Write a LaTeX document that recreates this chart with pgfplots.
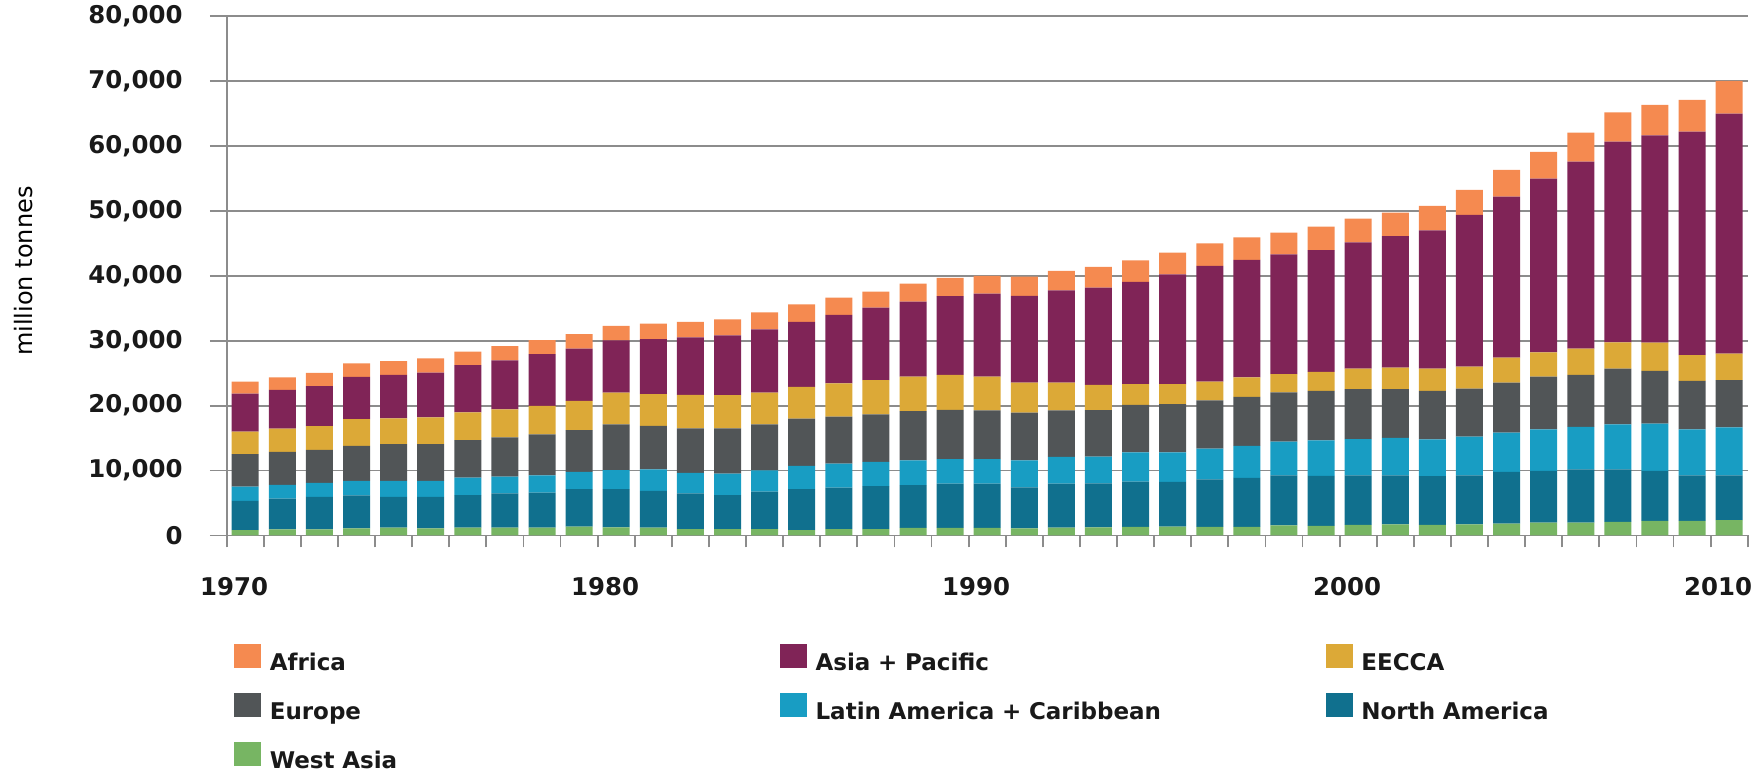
\documentclass[border=0pt]{standalone}
\usepackage{fontspec}
\setmainfont{DejaVu Sans}
\usepackage{pgfplots}
\usepackage{pgfplotstable}
\pgfplotsset{compat=1.18}

\definecolor{cWA}{HTML}{77B563}
\definecolor{cNA}{HTML}{10708E}
\definecolor{cLA}{HTML}{189DC3}
\definecolor{cEU}{HTML}{515557}
\definecolor{cEE}{HTML}{DCA937}
\definecolor{cAP}{HTML}{802457}
\definecolor{cAF}{HTML}{F58A50}
\definecolor{cgrid}{HTML}{8C8C8C}

% million tonnes per region
\pgfplotstableread{
year WA NA LA EU EE AP AF
1970 825 4510 2200 5005 3465 5830 1870
1971 935 4730 2145 5060 3575 5995 1925
1972 935 5005 2145 5115 3630 6160 2035
1973 1100 5060 2255 5390 4125 6490 2090
1974 1210 4730 2475 5665 3960 6710 2090
1975 1100 4840 2475 5665 4125 6875 2200
1976 1210 5005 2695 5775 4290 7260 2090
1977 1210 5280 2585 6050 4290 7535 2200
1978 1210 5390 2640 6325 4400 7975 2145
1979 1375 5775 2640 6435 4510 8030 2255
1980 1265 5885 2915 7040 4895 8030 2255
1981 1210 5665 3300 6710 4895 8470 2365
1982 990 5500 3135 6875 5170 8855 2365
1983 990 5225 3300 6985 5115 9185 2475
1984 990 5775 3245 7095 4895 9735 2640
1985 825 6325 3575 7260 4895 10010 2695
1986 990 6380 3685 7260 5115 10560 2640
1987 990 6600 3740 7315 5280 11165 2475
1988 1155 6600 3795 7590 5335 11550 2750
1989 1155 6820 3795 7590 5390 12100 2805
1990 1155 6820 3795 7480 5225 12760 2750
1991 1100 6325 4125 7370 4620 13365 2970
1992 1210 6765 4125 7150 4290 14190 3025
1993 1265 6765 4125 7150 3905 14960 3190
1994 1320 6985 4510 7315 3190 15730 3300
1995 1375 6875 4565 7425 3080 16885 3355
1996 1320 7315 4730 7425 2915 17820 3465
1997 1320 7535 4950 7535 3025 18095 3465
1998 1540 7700 5225 7590 2805 18425 3355
1999 1485 7700 5445 7645 2915 18755 3630
2000 1650 7590 5610 7700 3135 19470 3630
2001 1705 7535 5775 7535 3300 20240 3630
2002 1650 7480 5665 7480 3410 21285 3795
2003 1705 7535 5995 7370 3410 23375 3850
2004 1815 7975 6050 7700 3850 24805 4125
2005 1980 7975 6380 8140 3740 26730 4125
2006 1980 8195 6545 8030 4015 28820 4455
2007 2090 8085 6930 8580 4070 30910 4510
2008 2255 7700 7260 8140 4345 31900 4730
2009 2255 6985 7095 7480 3960 34430 4895
2010 2365 6875 7425 7260 4070 36960 5060
}\datatable

\begin{document}
\begin{tikzpicture}
\path[use as bounding box] (-113.35pt,-121.75pt) rectangle (764.65pt,267.75pt);
\begin{axis}[
  at={(0pt,0pt)}, anchor=south west,
  scale only axis, width=760.5pt, height=259.75pt,
  ybar stacked, bar width=13.5pt,
  xmin=1969.5, xmax=2010.5, ymin=0, ymax=80000,
  axis lines*=left,
  axis line style={-, draw=cgrid, line width=0.9pt},
  ymajorgrids, major grid style={draw=cgrid, line width=0.9pt},
  ytick={0,10000,...,80000},
  xtick={1969.7,1979.7,1989.7,1999.7,2009.7},
  xticklabels={1970,1980,1990,2000,2010},
  minor xtick={1969.5,1970.5,...,2010.5},
  tick align=outside, major tick length=8.35pt, minor tick length=6pt,
  tick style={draw=cgrid, line width=0.9pt},
  major x tick style={draw=none},
  scaled y ticks=false,
  /pgf/number format/.cd, fixed, 1000 sep={,}, assume math mode=true, /pgfplots/.cd,
  tick label style={font=\bfseries\fontsize{12.2}{14}\selectfont, text=black!90},
  yticklabel style={anchor=east, inner sep=0pt, xshift=-13.5pt},
  xticklabel style={anchor=base, inner sep=0pt, yshift=-21.75pt},
  ylabel={million tonnes},
  ylabel style={at={(axis description cs:-0.1333,0.509)}, anchor=center, font=\fontsize{12}{14}\selectfont},
  legend columns=3,
  legend cell align=left,
  legend style={
    at={(0,0)}, anchor=north west, xshift=3.65pt, yshift=-54.25pt,
    draw=none, fill=none, inner sep=0pt, outer sep=0pt,
    font=\bfseries\fontsize{11.5}{13}\selectfont, text=black!90,
    /tikz/row sep=8.25pt,
    /tikz/every odd column/.append style={column sep=4.5pt},
    nodes={inner sep=0pt, text height=9pt, text depth=3pt, text width=255pt, align=left},
  },
]
\addplot[fill=cWA, draw=none, forget plot] table[x=year, y=WA] {\datatable};
\addplot[fill=cNA, draw=none, forget plot] table[x=year, y=NA] {\datatable};
\addplot[fill=cLA, draw=none, forget plot] table[x=year, y=LA] {\datatable};
\addplot[fill=cEU, draw=none, forget plot] table[x=year, y=EU] {\datatable};
\addplot[fill=cEE, draw=none, forget plot] table[x=year, y=EE] {\datatable};
\addplot[fill=cAP, draw=none, forget plot] table[x=year, y=AP] {\datatable};
\addplot[fill=cAF, draw=none, forget plot] table[x=year, y=AF] {\datatable};

\addlegendimage{legend image code/.code={\fill[cAF] (0pt,-1.5pt) rectangle (13pt,10pt);}}
\addlegendentry{Africa}
\addlegendimage{legend image code/.code={\fill[cAP] (0pt,-1.5pt) rectangle (13pt,10pt);}}
\addlegendentry{Asia + Pacific}
\addlegendimage{legend image code/.code={\fill[cEE] (0pt,-1.5pt) rectangle (13pt,10pt);}}
\addlegendentry{EECCA}
\addlegendimage{legend image code/.code={\fill[cEU] (0pt,-1.5pt) rectangle (13pt,10pt);}}
\addlegendentry{Europe}
\addlegendimage{legend image code/.code={\fill[cLA] (0pt,-1.5pt) rectangle (13pt,10pt);}}
\addlegendentry{Latin America + Caribbean}
\addlegendimage{legend image code/.code={\fill[cNA] (0pt,-1.5pt) rectangle (13pt,10pt);}}
\addlegendentry{North America}
\addlegendimage{legend image code/.code={\fill[cWA] (0pt,-1.5pt) rectangle (13pt,10pt);}}
\addlegendentry{West Asia}
\end{axis}
\end{tikzpicture}
\end{document}
